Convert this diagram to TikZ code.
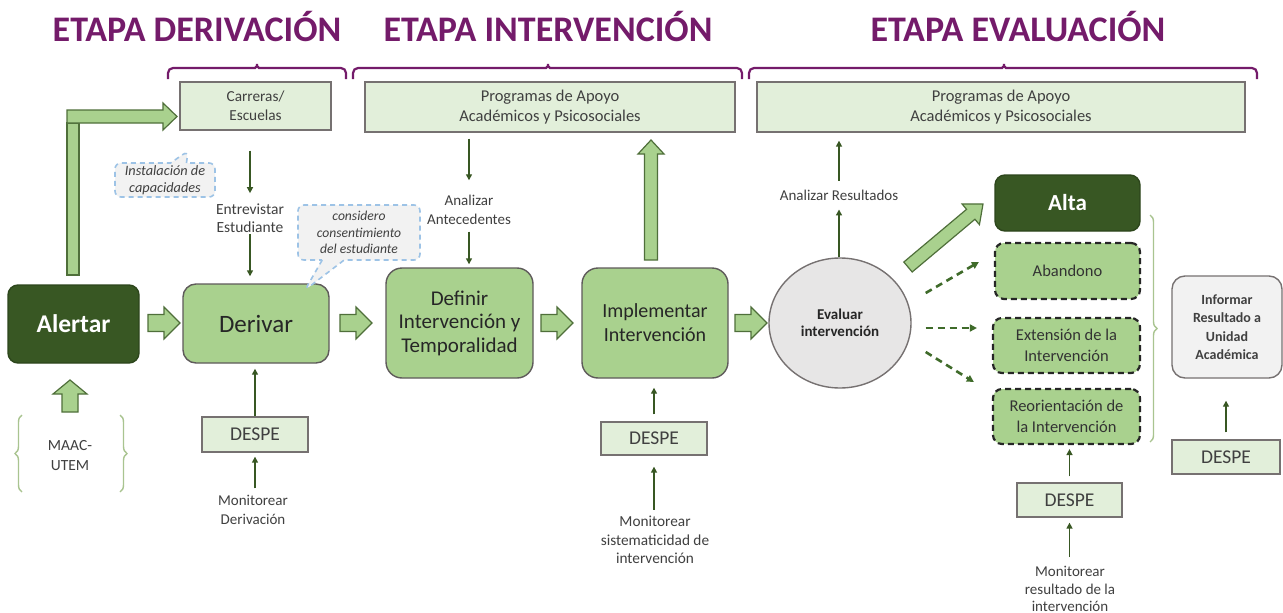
\documentclass[tikz,border=0pt]{standalone}
\usepackage{fontspec}
\setmainfont{Carlito}
\usetikzlibrary{calc,shapes.geometric,shapes.callouts,arrows.meta,decorations.pathreplacing}
\definecolor{dkgreen}{HTML}{385723}
\definecolor{mdgreen}{HTML}{A9D18E}
\definecolor{ltgreen}{HTML}{E2EFDA}
\definecolor{purp}{HTML}{741B6A}
\definecolor{txt}{HTML}{404040}
\definecolor{bord}{HTML}{767171}
\definecolor{fatdraw}{HTML}{4F6F3A}
\definecolor{calloutblue}{HTML}{9DC3E6}
\definecolor{callfill}{HTML}{F2F2F2}
\definecolor{evalfill}{HTML}{E7E6E6}
\definecolor{dashgreen}{HTML}{3F6B2A}
\definecolor{bracegreen}{HTML}{A9C490}
\newcommand\fsz[2]{\fontsize{#1}{#2}\selectfont}
\newcommand\fatarrow[6]{%
  \coordinate (#6-h) at ($(#2)!#5!(#1)$);
  \draw[fatarr] ($(#1)!#3!90:(#2)$) -- ($(#6-h)!#3!90:(#2)$) -- ($(#6-h)!#4!90:(#2)$) -- (#2)
    -- ($(#6-h)!#4!-90:(#2)$) -- ($(#6-h)!#3!-90:(#2)$) -- ($(#1)!#3!-90:(#2)$) -- cycle;}
\tikzset{
  lightbox/.style={draw=bord, fill=ltgreen, line width=1.3pt, text=txt, align=center, inner sep=0pt},
  mainbox/.style={draw=bord!80!black, fill=mdgreen, line width=1.4pt, rounded corners=13pt, align=center, inner sep=0pt, text=black!85},
  darkbox/.style={draw=dkgreen!80!black, fill=dkgreen, line width=1.4pt, rounded corners=10pt, align=center, inner sep=0pt, text=white, font=\bfseries},
  dashbox/.style={draw=black!85, fill=mdgreen, line width=2.2pt, dash pattern=on 6pt off 4pt, rounded corners=9pt, align=center, inner sep=0pt, text=black!80},
  label/.style={text=txt, align=center, inner sep=1pt},
  thinarr/.style={draw=dkgreen, line width=1.4pt, -{Triangle[length=6pt,width=6pt]}},
  dasharr/.style={draw=dashgreen, line width=2.6pt, dash pattern=on 7pt off 5pt, -{Triangle[length=7pt,width=7pt]}},
  fatarr/.style={draw=fatdraw, fill=mdgreen, line width=1.2pt, line join=miter},
  callbox/.style={rectangle callout, draw=calloutblue, fill=callfill, line width=1.6pt, dash pattern=on 5pt off 4pt, rounded corners=6pt, align=center, inner sep=0pt, text=txt, font=\itshape},
  title/.style={text=purp, font=\bfseries\fsz{36}{42}, anchor=base, inner sep=0pt},
  pbrace/.style={draw=purp, line width=2.2pt, rounded corners=5pt},
  sbrace/.style={draw=bracegreen, line width=1.4pt, decorate, decoration={brace, amplitude=7pt}},
}
\begin{document}
\begin{tikzpicture}[x=1pt,y=-1pt]
\useasboundingbox (0,0) rectangle (1283,613);
\fill[white] (0,0) rectangle (1283,613);

% titles
\node[title] (t1) at (197,41) {ETAPA DERIVACIÓN};
\node[title] (t2) at (548,41) {ETAPA INTERVENCIÓN};
\node[title] (t3) at (1018,41) {ETAPA EVALUACIÓN};

% purple braces
\draw[pbrace] (168,79) -- (168,68) -- (250,68) .. controls (255,68) and (257,66) .. (257,61) .. controls (257,66) and (259,68) .. (264,68) -- (346,68) -- (346,79);
\draw[pbrace] (353,79) -- (353,68) -- (541,68) .. controls (546,68) and (548,66) .. (548,61) .. controls (548,66) and (550,68) .. (555,68) -- (742,68) -- (742,79);
\draw[pbrace] (749,79) -- (749,68) -- (997,68) .. controls (1002,68) and (1004,66) .. (1004,61) .. controls (1004,66) and (1006,68) .. (1011,68) -- (1257,68) -- (1257,79);

% top boxes
\node[lightbox, minimum width=151pt, minimum height=48pt, font=\fsz{15.3}{19}] (carr) at (255.5,106) {Carreras/\\Escuelas};
\node[lightbox, minimum width=370pt, minimum height=50pt, font=\fsz{16.5}{20}] (prog1) at (550,107) {Programas de Apoyo\\Académicos y Psicosociales};
\node[lightbox, minimum width=488pt, minimum height=50pt, font=\fsz{16.5}{20}] (prog2) at (1001,107) {Programas de Apoyo\\Académicos y Psicosociales};

% main boxes
\node[darkbox, minimum width=131pt, minimum height=78pt, font=\bfseries\fsz{25.5}{29}] (alert) at (73.5,324) {Alertar};
\node[mainbox, minimum width=146pt, minimum height=79pt, font=\fsz{25}{29}] (deriv) at (256,323.5) {Derivar};
\node[mainbox, minimum width=147pt, minimum height=110pt, rounded corners=16pt, font=\fsz{21}{23.5}] (defin) at (459.5,323) {Definir\\Intervención y\\Temporalidad};
\node[mainbox, minimum width=146pt, minimum height=110pt, rounded corners=16pt, font=\fsz{20}{24}] (impl) at (655,323) {Implementar\\Intervención};
\node[ellipse, draw=bord, fill=evalfill, line width=1.4pt, minimum width=142pt, minimum height=130pt, inner sep=0pt, align=center, text=black!85, font=\bfseries\fsz{15}{17}] (eval) at (840,323) {Evaluar\\intervención};

% outcomes
\node[darkbox, minimum width=145pt, minimum height=56pt, font=\bfseries\fsz{23}{25}] (alta) at (1067.5,203) {Alta};
\node[dashbox, minimum width=145pt, minimum height=56pt, font=\fsz{16.5}{21}] (aband) at (1067.5,271) {Abandono};
\node[dashbox, minimum width=147pt, minimum height=55pt, font=\fsz{16.5}{21}] (exten) at (1066.5,345.5) {Extensión de la\\Intervención};
\node[dashbox, minimum width=147pt, minimum height=55pt, font=\fsz{16.5}{21}] (reori) at (1066.5,416.5) {Reorientación de\\la Intervención};
\node[draw=bord, fill=callfill, line width=1.4pt, rounded corners=13pt, minimum width=110pt, minimum height=102pt, inner sep=0pt, align=center, text=txt, font=\bfseries\fsz{14}{18.5}] (infor) at (1227,327) {Informar\\Resultado a\\Unidad\\Académica};
\draw[sbrace] (1150,215) -- (1150,442);

% DESPE boxes
\node[lightbox, minimum width=106pt, minimum height=35pt, font=\fsz{19.5}{22}] (despe1) at (255,434.5) {DESPE};
\node[lightbox, minimum width=106pt, minimum height=33pt, font=\fsz{19.5}{22}] (despe2) at (654,438.5) {DESPE};
\node[lightbox, minimum width=105pt, minimum height=34pt, font=\fsz{19.5}{22}] (despe3) at (1069.5,500) {DESPE};
\node[lightbox, minimum width=108pt, minimum height=34pt, font=\fsz{19.5}{22}] (despe4) at (1226,457) {DESPE};

% labels
\node[label, font=\fsz{15.5}{18.5}] (entr) at (250,218) {Entrevistar\\Estudiante};
\node[label, font=\fsz{15}{18.5}] (anA) at (469,210) {Analizar\\Antecedentes};
\node[label, font=\fsz{15}{18.5}] (anR) at (839,195) {Analizar Resultados};
\node[label, font=\fsz{15}{18.5}] (mon1) at (253,510) {Monitorear\\Derivación};
\node[label, font=\fsz{15.3}{18.5}] (mon2) at (655,540) {Monitorear\\sistematicidad de\\intervención};
\node[label, font=\fsz{15}{17.5}] (mon3) at (1070,589) {Monitorear\\resultado de la\\intervención};
\node[label, font=\fsz{15.5}{20}] (maac) at (70,456) {MAAC-\\UTEM};
\draw[sbrace] (22,492) -- (22,415);
\draw[sbrace] (120,415) -- (120,492);

% callouts
\coordinate (ptr1) at (188,151);
\coordinate (ptr2) at (305,290);
\node[callbox, minimum width=100pt, minimum height=34pt, font=\itshape\fsz{14.3}{17.5}, callout absolute pointer={(ptr1)}, callout pointer width=16pt] (call1) at (165,180) {Instalación de\\capacidades};
\node[callbox, minimum width=122pt, minimum height=55pt, font=\itshape\fsz{13.6}{16.5}, callout absolute pointer={(ptr2)}, callout pointer width=22pt] (call2) at (359,232.5) {considero\\consentimiento\\del estudiante};

% thin arrows
\draw[thinarr, shorten <=20pt, shorten >=9pt] (entr.north |- carr.south) -- (entr.north);
\draw[thinarr, shorten >=7pt] (entr.south) -- (entr.south |- deriv.north);
\draw[thinarr, shorten <=6pt, shorten >=14pt] (anA.north |- prog1.south) -- (anA.north);
\draw[thinarr, shorten <=6pt, shorten >=3pt] (anA.south) -- (anA.south |- defin.north);
\draw[thinarr, shorten >=8pt] (anR.south |- eval.north) -- (anR.south);
\draw[thinarr, shorten <=8pt, shorten >=8pt] (anR.north) -- (anR.north |- prog2.south);
\draw[thinarr, shorten >=5pt] (despe1.north) -- (despe1.north |- deriv.south);
\draw[thinarr, shorten <=6pt, shorten >=4pt] (despe1.south |- mon1.north) -- (despe1.south);
\draw[thinarr, shorten <=7pt, shorten >=9pt] (despe2.north) -- (despe2.north |- impl.south);
\draw[thinarr, shorten <=5pt, shorten >=11pt] (despe2.south |- mon2.north) -- (despe2.south);
\draw[thinarr, shorten <=6pt, shorten >=4pt] (despe3.north) -- (despe3.north |- reori.south);
\draw[thinarr, shorten <=8pt, shorten >=5pt] (despe3.south |- mon3.north) -- (despe3.south);
\draw[thinarr, shorten <=7pt, shorten >=22pt] (despe4.north) -- (despe4.north |- infor.south);

% dashed arrows
\draw[dasharr] ([shift={(14,-30)}]eval.east) -- ([shift={(-15,-9)}]aband.west);
\draw[dasharr] ([shift={(14,5)}]eval.east) -- ([shift={(-15,-17.5)}]exten.west);
\draw[dasharr] ([shift={(14,29)}]eval.east) -- ([shift={(-18,-34.5)}]reori.west);

% fat arrows
\coordinate (fa1s) at (148,323); \coordinate (fa1e) at (180,323);
\fatarrow{fa1s}{fa1e}{8.5pt}{16pt}{16pt}{fa1}
\coordinate (fa2s) at (340,323); \coordinate (fa2e) at (372,323);
\fatarrow{fa2s}{fa2e}{8.5pt}{16pt}{16pt}{fa2}
\coordinate (fa3s) at (541,323); \coordinate (fa3e) at (573,323);
\fatarrow{fa3s}{fa3e}{8.5pt}{16pt}{16pt}{fa3}
\coordinate (fa4s) at (735,323); \coordinate (fa4e) at (767,323);
\fatarrow{fa4s}{fa4e}{8.5pt}{16pt}{16pt}{fa4}
\coordinate (fa5s) at (651,260); \coordinate (fa5e) at (651,140);
\fatarrow{fa5s}{fa5e}{6.5pt}{13pt}{14pt}{fa5}
\coordinate (fa6s) at (908,267); \coordinate (fa6e) at (983,204);
\fatarrow{fa6s}{fa6e}{6.5pt}{13.5pt}{16pt}{fa6}
\coordinate (fa7s) at (70,412); \coordinate (fa7e) at (70,380);
\fatarrow{fa7s}{fa7e}{8pt}{17pt}{14pt}{fa7}
% L-shaped arrow
\draw[fatarr] (67,123) rectangle (79,275);
\draw[fatarr] (67,110) -- (163,110) -- (163,103) -- (177,116.5) -- (163,130) -- (163,123) -- (67,123) -- cycle;
\end{tikzpicture}
\end{document}
